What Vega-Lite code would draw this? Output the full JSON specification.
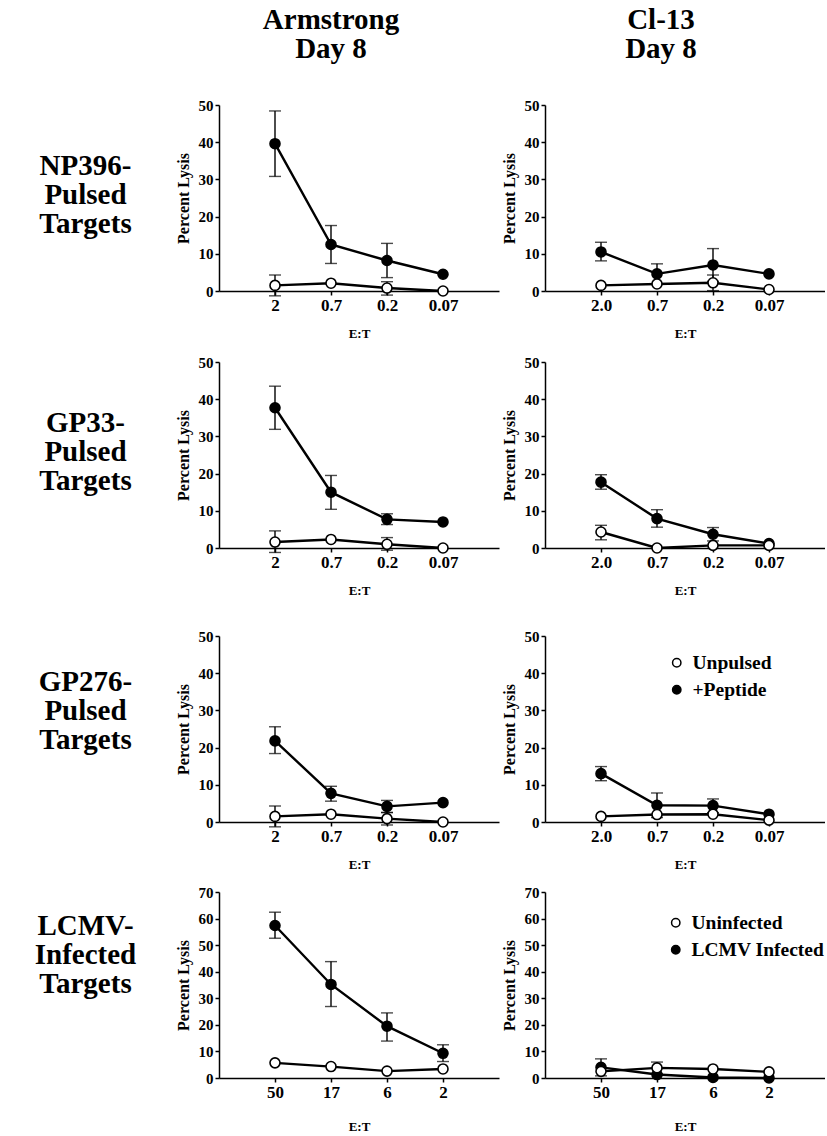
{
"$schema": "https://vega.github.io/schema/vega-lite/v6.json",
"background": "white",
"padding": {"left": 2, "top": 6, "right": 0, "bottom": 0},
"config": {
  "view": {"stroke": null},
  "font": "Liberation Serif",
  "axis": {"grid": false, "labelFont": "Liberation Serif", "labelFontWeight": "bold", "labelFontSize": 15, "labelColor": "black", "titleFont": "Liberation Serif", "titleFontWeight": "bold", "titleFontSize": 14, "titleColor": "black", "domainColor": "black", "domainWidth": 1.5, "tickColor": "black", "tickWidth": 1.5, "tickSize": 4},
  "axisX": {"labelFontSize": 17, "labelAngle": 0, "labelPadding": 2, "titlePadding": 14, "titleFontSize": 13},
  "axisY": {"titleFontSize": 16, "titlePadding": 7, "labelPadding": 2}
},
"datasets": {
  "d": [
    {"p": "A1", "et": "2", "s": "+Peptide", "v": 39.6, "lo": 30.8, "hi": 48.4},
    {"p": "A1", "et": "0.7", "s": "+Peptide", "v": 12.5, "lo": 7.4, "hi": 17.6},
    {"p": "A1", "et": "0.2", "s": "+Peptide", "v": 8.2, "lo": 3.6, "hi": 12.8},
    {"p": "A1", "et": "0.07", "s": "+Peptide", "v": 4.5, "lo": null, "hi": null},
    {"p": "A1", "et": "2", "s": "Unpulsed", "v": 1.5, "lo": -1.3, "hi": 4.3},
    {"p": "A1", "et": "0.7", "s": "Unpulsed", "v": 2.1, "lo": null, "hi": null},
    {"p": "A1", "et": "0.2", "s": "Unpulsed", "v": 0.8, "lo": -1.1, "hi": 2.5},
    {"p": "A1", "et": "0.07", "s": "Unpulsed", "v": 0, "lo": null, "hi": null},

    {"p": "B1", "et": "2.0", "s": "+Peptide", "v": 10.5, "lo": 8.1, "hi": 13.1},
    {"p": "B1", "et": "0.7", "s": "+Peptide", "v": 4.6, "lo": 1.9, "hi": 7.3},
    {"p": "B1", "et": "0.2", "s": "+Peptide", "v": 7.0, "lo": 2.6, "hi": 11.4},
    {"p": "B1", "et": "0.07", "s": "+Peptide", "v": 4.6, "lo": null, "hi": null},
    {"p": "B1", "et": "2.0", "s": "Unpulsed", "v": 1.5, "lo": null, "hi": null},
    {"p": "B1", "et": "0.7", "s": "Unpulsed", "v": 1.9, "lo": null, "hi": null},
    {"p": "B1", "et": "0.2", "s": "Unpulsed", "v": 2.2, "lo": 0.1, "hi": 4.3},
    {"p": "B1", "et": "0.07", "s": "Unpulsed", "v": 0.4, "lo": null, "hi": null},

    {"p": "A2", "et": "2", "s": "+Peptide", "v": 37.7, "lo": 31.9, "hi": 43.5},
    {"p": "A2", "et": "0.7", "s": "+Peptide", "v": 15.0, "lo": 10.4, "hi": 19.5},
    {"p": "A2", "et": "0.2", "s": "+Peptide", "v": 7.7, "lo": 6.3, "hi": 9.2},
    {"p": "A2", "et": "0.07", "s": "+Peptide", "v": 7.0, "lo": null, "hi": null},
    {"p": "A2", "et": "2", "s": "Unpulsed", "v": 1.6, "lo": -1.2, "hi": 4.6},
    {"p": "A2", "et": "0.7", "s": "Unpulsed", "v": 2.3, "lo": null, "hi": null},
    {"p": "A2", "et": "0.2", "s": "Unpulsed", "v": 1.0, "lo": -0.6, "hi": 2.8},
    {"p": "A2", "et": "0.07", "s": "Unpulsed", "v": 0, "lo": null, "hi": null},

    {"p": "B2", "et": "2.0", "s": "+Peptide", "v": 17.7, "lo": 15.8, "hi": 19.7},
    {"p": "B2", "et": "0.7", "s": "+Peptide", "v": 7.9, "lo": 5.6, "hi": 10.3},
    {"p": "B2", "et": "0.2", "s": "+Peptide", "v": 3.7, "lo": 1.9, "hi": 5.5},
    {"p": "B2", "et": "0.07", "s": "+Peptide", "v": 1.2, "lo": null, "hi": null},
    {"p": "B2", "et": "2.0", "s": "Unpulsed", "v": 4.3, "lo": 2.2, "hi": 6.1},
    {"p": "B2", "et": "0.7", "s": "Unpulsed", "v": 0, "lo": null, "hi": null},
    {"p": "B2", "et": "0.2", "s": "Unpulsed", "v": 0.7, "lo": null, "hi": null},
    {"p": "B2", "et": "0.07", "s": "Unpulsed", "v": 0.7, "lo": null, "hi": null},

    {"p": "A3", "et": "2", "s": "+Peptide", "v": 21.8, "lo": 18.4, "hi": 25.6},
    {"p": "A3", "et": "0.7", "s": "+Peptide", "v": 7.7, "lo": 5.6, "hi": 9.6},
    {"p": "A3", "et": "0.2", "s": "+Peptide", "v": 4.2, "lo": 2.5, "hi": 5.8},
    {"p": "A3", "et": "0.07", "s": "+Peptide", "v": 5.2, "lo": null, "hi": null},
    {"p": "A3", "et": "2", "s": "Unpulsed", "v": 1.5, "lo": -1.3, "hi": 4.3},
    {"p": "A3", "et": "0.7", "s": "Unpulsed", "v": 2.1, "lo": null, "hi": null},
    {"p": "A3", "et": "0.2", "s": "Unpulsed", "v": 0.9, "lo": -0.8, "hi": 2.6},
    {"p": "A3", "et": "0.07", "s": "Unpulsed", "v": 0, "lo": null, "hi": null},

    {"p": "B3", "et": "2.0", "s": "+Peptide", "v": 13.0, "lo": 11.1, "hi": 14.9},
    {"p": "B3", "et": "0.7", "s": "+Peptide", "v": 4.5, "lo": 1.2, "hi": 7.8},
    {"p": "B3", "et": "0.2", "s": "+Peptide", "v": 4.4, "lo": 2.5, "hi": 6.2},
    {"p": "B3", "et": "0.07", "s": "+Peptide", "v": 2.1, "lo": null, "hi": null},
    {"p": "B3", "et": "2.0", "s": "Unpulsed", "v": 1.5, "lo": null, "hi": null},
    {"p": "B3", "et": "0.7", "s": "Unpulsed", "v": 2.0, "lo": null, "hi": null},
    {"p": "B3", "et": "0.2", "s": "Unpulsed", "v": 2.1, "lo": null, "hi": null},
    {"p": "B3", "et": "0.07", "s": "Unpulsed", "v": 0.5, "lo": null, "hi": null},

    {"p": "A4", "et": "50", "s": "LCMV Infected", "v": 57.4, "lo": 52.6, "hi": 62.4},
    {"p": "A4", "et": "17", "s": "LCMV Infected", "v": 35.2, "lo": 26.9, "hi": 43.8},
    {"p": "A4", "et": "6", "s": "LCMV Infected", "v": 19.5, "lo": 13.9, "hi": 24.5},
    {"p": "A4", "et": "2", "s": "LCMV Infected", "v": 9.3, "lo": 6.2, "hi": 12.5},
    {"p": "A4", "et": "50", "s": "Uninfected", "v": 5.7, "lo": null, "hi": null},
    {"p": "A4", "et": "17", "s": "Uninfected", "v": 4.3, "lo": null, "hi": null},
    {"p": "A4", "et": "6", "s": "Uninfected", "v": 2.6, "lo": null, "hi": null},
    {"p": "A4", "et": "2", "s": "Uninfected", "v": 3.4, "lo": null, "hi": null},

    {"p": "B4", "et": "50", "s": "LCMV Infected", "v": 4.0, "lo": 0.8, "hi": 7.2},
    {"p": "B4", "et": "17", "s": "LCMV Infected", "v": 1.3, "lo": null, "hi": null},
    {"p": "B4", "et": "6", "s": "LCMV Infected", "v": 0.2, "lo": null, "hi": null},
    {"p": "B4", "et": "2", "s": "LCMV Infected", "v": 0, "lo": null, "hi": null},
    {"p": "B4", "et": "50", "s": "Uninfected", "v": 2.5, "lo": null, "hi": null},
    {"p": "B4", "et": "17", "s": "Uninfected", "v": 3.8, "lo": 1.6, "hi": 6.0},
    {"p": "B4", "et": "6", "s": "Uninfected", "v": 3.4, "lo": null, "hi": null},
    {"p": "B4", "et": "2", "s": "Uninfected", "v": 2.3, "lo": null, "hi": null}
  ]
},
"resolve": {"scale": {"x": "independent", "y": "independent", "fill": "independent"}, "legend": {"fill": "independent"}},
"spacing": 32,
"vconcat": [
 {
  "resolve": {"scale": {"x": "independent", "y": "independent", "fill": "independent"}, "legend": {"fill": "independent"}},
  "spacing": 15,
  "vconcat": [
   {
    "resolve": {"scale": {"x": "independent", "y": "independent", "fill": "independent"}, "legend": {"fill": "independent"}},
    "spacing": 2,
    "hconcat": [
     {"width": 171, "height": 186, "data": {"values": [{"label": "NP396-\nPulsed\nTargets"}]},
      "mark": {"type": "text", "lineBreak": "\n", "font": "Liberation Serif", "fontWeight": "bold", "fontSize": 29, "lineHeight": 29, "align": "center", "baseline": "middle", "dy": -32, "dx": -2, "color": "black"},
      "encoding": {"text": {"field": "label"}}},
     {"width": 280, "height": 186, "data": {"name": "d"}, "transform": [{"filter": "datum.p === 'A1'"}],
      "title": {"text": ["Armstrong", "Day 8"], "frame": "bounds", "anchor": "middle", "fontSize": 29, "lineHeight": 29, "font": "Liberation Serif", "fontWeight": "bold", "color": "black", "offset": 34, "dx": -6},
      "encoding": {"x": {"field": "et", "type": "ordinal", "sort": ["2", "0.7", "0.2", "0.07"], "scale": {"type": "point", "padding": 1}, "axis": {"title": "E:T"}}},
      "layer": [
       {"mark": {"type": "line", "color": "black", "strokeWidth": 2.4}, "encoding": {"y": {"field": "v", "type": "quantitative", "scale": {"domain": [0, 50], "nice": false}, "axis": {"title": "Percent Lysis", "values": [0, 10, 20, 30, 40, 50]}}, "detail": {"field": "s"}}},
       {"mark": {"type": "rule", "color": "black", "strokeWidth": 1.4}, "encoding": {"y": {"field": "lo", "type": "quantitative", "scale": {"domain": [0, 50], "nice": false}, "axis": {"title": "Percent Lysis", "values": [0, 10, 20, 30, 40, 50]}}, "y2": {"field": "hi"}}},
       {"mark": {"type": "tick", "color": "black", "size": 12, "thickness": 1.4}, "encoding": {"y": {"field": "hi", "type": "quantitative", "scale": {"domain": [0, 50], "nice": false}, "axis": {"title": "Percent Lysis", "values": [0, 10, 20, 30, 40, 50]}}}},
       {"mark": {"type": "tick", "color": "black", "size": 12, "thickness": 1.4}, "encoding": {"y": {"field": "lo", "type": "quantitative", "scale": {"domain": [0, 50], "nice": false}, "axis": {"title": "Percent Lysis", "values": [0, 10, 20, 30, 40, 50]}}}},
       {"mark": {"type": "point", "shape": "circle", "filled": true, "size": 100, "stroke": "black", "strokeWidth": 1.6, "opacity": 1}, "encoding": {"y": {"field": "v", "type": "quantitative", "scale": {"domain": [0, 50], "nice": false}, "axis": {"title": "Percent Lysis", "values": [0, 10, 20, 30, 40, 50]}}, "fill": {"field": "s", "type": "nominal", "scale": {"domain": ["Unpulsed", "+Peptide"], "range": ["white", "black"]}, "legend": null}}}
      ]},
     {"width": 280, "height": 186, "data": {"name": "d"}, "transform": [{"filter": "datum.p === 'B1'"}],
      "title": {"text": ["Cl-13", "Day 8"], "frame": "bounds", "anchor": "middle", "fontSize": 29, "lineHeight": 29, "font": "Liberation Serif", "fontWeight": "bold", "color": "black", "offset": 34, "dx": -2},
      "encoding": {"x": {"field": "et", "type": "ordinal", "sort": ["2.0", "0.7", "0.2", "0.07"], "scale": {"type": "point", "padding": 1}, "axis": {"title": "E:T"}}},
      "layer": [
       {"mark": {"type": "line", "color": "black", "strokeWidth": 2.4}, "encoding": {"y": {"field": "v", "type": "quantitative", "scale": {"domain": [0, 50], "nice": false}, "axis": {"title": "Percent Lysis", "values": [0, 10, 20, 30, 40, 50]}}, "detail": {"field": "s"}}},
       {"mark": {"type": "rule", "color": "black", "strokeWidth": 1.4}, "encoding": {"y": {"field": "lo", "type": "quantitative", "scale": {"domain": [0, 50], "nice": false}, "axis": {"title": "Percent Lysis", "values": [0, 10, 20, 30, 40, 50]}}, "y2": {"field": "hi"}}},
       {"mark": {"type": "tick", "color": "black", "size": 12, "thickness": 1.4}, "encoding": {"y": {"field": "hi", "type": "quantitative", "scale": {"domain": [0, 50], "nice": false}, "axis": {"title": "Percent Lysis", "values": [0, 10, 20, 30, 40, 50]}}}},
       {"mark": {"type": "tick", "color": "black", "size": 12, "thickness": 1.4}, "encoding": {"y": {"field": "lo", "type": "quantitative", "scale": {"domain": [0, 50], "nice": false}, "axis": {"title": "Percent Lysis", "values": [0, 10, 20, 30, 40, 50]}}}},
       {"mark": {"type": "point", "shape": "circle", "filled": true, "size": 100, "stroke": "black", "strokeWidth": 1.6, "opacity": 1}, "encoding": {"y": {"field": "v", "type": "quantitative", "scale": {"domain": [0, 50], "nice": false}, "axis": {"title": "Percent Lysis", "values": [0, 10, 20, 30, 40, 50]}}, "fill": {"field": "s", "type": "nominal", "scale": {"domain": ["Unpulsed", "+Peptide"], "range": ["white", "black"]}, "legend": null}}}
      ]}
    ]
   },
   {
    "resolve": {"scale": {"x": "independent", "y": "independent", "fill": "independent"}, "legend": {"fill": "independent"}},
    "spacing": 2,
    "hconcat": [
     {"width": 171, "height": 186, "data": {"values": [{"label": "GP33-\nPulsed\nTargets"}]},
      "mark": {"type": "text", "lineBreak": "\n", "font": "Liberation Serif", "fontWeight": "bold", "fontSize": 29, "lineHeight": 29, "align": "center", "baseline": "middle", "dy": -32, "dx": -2, "color": "black"},
      "encoding": {"text": {"field": "label"}}},
     {"width": 280, "height": 186, "data": {"name": "d"}, "transform": [{"filter": "datum.p === 'A2'"}],
      "encoding": {"x": {"field": "et", "type": "ordinal", "sort": ["2", "0.7", "0.2", "0.07"], "scale": {"type": "point", "padding": 1}, "axis": {"title": "E:T"}}},
      "layer": [
       {"mark": {"type": "line", "color": "black", "strokeWidth": 2.4}, "encoding": {"y": {"field": "v", "type": "quantitative", "scale": {"domain": [0, 50], "nice": false}, "axis": {"title": "Percent Lysis", "values": [0, 10, 20, 30, 40, 50]}}, "detail": {"field": "s"}}},
       {"mark": {"type": "rule", "color": "black", "strokeWidth": 1.4}, "encoding": {"y": {"field": "lo", "type": "quantitative", "scale": {"domain": [0, 50], "nice": false}, "axis": {"title": "Percent Lysis", "values": [0, 10, 20, 30, 40, 50]}}, "y2": {"field": "hi"}}},
       {"mark": {"type": "tick", "color": "black", "size": 12, "thickness": 1.4}, "encoding": {"y": {"field": "hi", "type": "quantitative", "scale": {"domain": [0, 50], "nice": false}, "axis": {"title": "Percent Lysis", "values": [0, 10, 20, 30, 40, 50]}}}},
       {"mark": {"type": "tick", "color": "black", "size": 12, "thickness": 1.4}, "encoding": {"y": {"field": "lo", "type": "quantitative", "scale": {"domain": [0, 50], "nice": false}, "axis": {"title": "Percent Lysis", "values": [0, 10, 20, 30, 40, 50]}}}},
       {"mark": {"type": "point", "shape": "circle", "filled": true, "size": 100, "stroke": "black", "strokeWidth": 1.6, "opacity": 1}, "encoding": {"y": {"field": "v", "type": "quantitative", "scale": {"domain": [0, 50], "nice": false}, "axis": {"title": "Percent Lysis", "values": [0, 10, 20, 30, 40, 50]}}, "fill": {"field": "s", "type": "nominal", "scale": {"domain": ["Unpulsed", "+Peptide"], "range": ["white", "black"]}, "legend": null}}}
      ]},
     {"width": 280, "height": 186, "data": {"name": "d"}, "transform": [{"filter": "datum.p === 'B2'"}],
      "encoding": {"x": {"field": "et", "type": "ordinal", "sort": ["2.0", "0.7", "0.2", "0.07"], "scale": {"type": "point", "padding": 1}, "axis": {"title": "E:T"}}},
      "layer": [
       {"mark": {"type": "line", "color": "black", "strokeWidth": 2.4}, "encoding": {"y": {"field": "v", "type": "quantitative", "scale": {"domain": [0, 50], "nice": false}, "axis": {"title": "Percent Lysis", "values": [0, 10, 20, 30, 40, 50]}}, "detail": {"field": "s"}}},
       {"mark": {"type": "rule", "color": "black", "strokeWidth": 1.4}, "encoding": {"y": {"field": "lo", "type": "quantitative", "scale": {"domain": [0, 50], "nice": false}, "axis": {"title": "Percent Lysis", "values": [0, 10, 20, 30, 40, 50]}}, "y2": {"field": "hi"}}},
       {"mark": {"type": "tick", "color": "black", "size": 12, "thickness": 1.4}, "encoding": {"y": {"field": "hi", "type": "quantitative", "scale": {"domain": [0, 50], "nice": false}, "axis": {"title": "Percent Lysis", "values": [0, 10, 20, 30, 40, 50]}}}},
       {"mark": {"type": "tick", "color": "black", "size": 12, "thickness": 1.4}, "encoding": {"y": {"field": "lo", "type": "quantitative", "scale": {"domain": [0, 50], "nice": false}, "axis": {"title": "Percent Lysis", "values": [0, 10, 20, 30, 40, 50]}}}},
       {"mark": {"type": "point", "shape": "circle", "filled": true, "size": 100, "stroke": "black", "strokeWidth": 1.6, "opacity": 1}, "encoding": {"y": {"field": "v", "type": "quantitative", "scale": {"domain": [0, 50], "nice": false}, "axis": {"title": "Percent Lysis", "values": [0, 10, 20, 30, 40, 50]}}, "fill": {"field": "s", "type": "nominal", "scale": {"domain": ["Unpulsed", "+Peptide"], "range": ["white", "black"]}, "legend": null}}}
      ]}
    ]
   }
  ]
 },
 {
  "resolve": {"scale": {"x": "independent", "y": "independent", "fill": "independent"}, "legend": {"fill": "independent"}},
  "spacing": 14,
  "vconcat": [
   {
    "resolve": {"scale": {"x": "independent", "y": "independent", "fill": "independent"}, "legend": {"fill": "independent"}},
    "spacing": 2,
    "hconcat": [
     {"width": 171, "height": 186, "data": {"values": [{"label": "GP276-\nPulsed\nTargets"}]},
      "mark": {"type": "text", "lineBreak": "\n", "font": "Liberation Serif", "fontWeight": "bold", "fontSize": 29, "lineHeight": 29, "align": "center", "baseline": "middle", "dy": -47, "dx": -2, "color": "black"},
      "encoding": {"text": {"field": "label"}}},
     {"width": 280, "height": 186, "data": {"name": "d"}, "transform": [{"filter": "datum.p === 'A3'"}],
      "encoding": {"x": {"field": "et", "type": "ordinal", "sort": ["2", "0.7", "0.2", "0.07"], "scale": {"type": "point", "padding": 1}, "axis": {"title": "E:T"}}},
      "layer": [
       {"mark": {"type": "line", "color": "black", "strokeWidth": 2.4}, "encoding": {"y": {"field": "v", "type": "quantitative", "scale": {"domain": [0, 50], "nice": false}, "axis": {"title": "Percent Lysis", "values": [0, 10, 20, 30, 40, 50]}}, "detail": {"field": "s"}}},
       {"mark": {"type": "rule", "color": "black", "strokeWidth": 1.4}, "encoding": {"y": {"field": "lo", "type": "quantitative", "scale": {"domain": [0, 50], "nice": false}, "axis": {"title": "Percent Lysis", "values": [0, 10, 20, 30, 40, 50]}}, "y2": {"field": "hi"}}},
       {"mark": {"type": "tick", "color": "black", "size": 12, "thickness": 1.4}, "encoding": {"y": {"field": "hi", "type": "quantitative", "scale": {"domain": [0, 50], "nice": false}, "axis": {"title": "Percent Lysis", "values": [0, 10, 20, 30, 40, 50]}}}},
       {"mark": {"type": "tick", "color": "black", "size": 12, "thickness": 1.4}, "encoding": {"y": {"field": "lo", "type": "quantitative", "scale": {"domain": [0, 50], "nice": false}, "axis": {"title": "Percent Lysis", "values": [0, 10, 20, 30, 40, 50]}}}},
       {"mark": {"type": "point", "shape": "circle", "filled": true, "size": 100, "stroke": "black", "strokeWidth": 1.6, "opacity": 1}, "encoding": {"y": {"field": "v", "type": "quantitative", "scale": {"domain": [0, 50], "nice": false}, "axis": {"title": "Percent Lysis", "values": [0, 10, 20, 30, 40, 50]}}, "fill": {"field": "s", "type": "nominal", "scale": {"domain": ["Unpulsed", "+Peptide"], "range": ["white", "black"]}, "legend": null}}}
      ]},
     {"width": 280, "height": 186, "data": {"name": "d"}, "transform": [{"filter": "datum.p === 'B3'"}],
      "encoding": {"x": {"field": "et", "type": "ordinal", "sort": ["2.0", "0.7", "0.2", "0.07"], "scale": {"type": "point", "padding": 1}, "axis": {"title": "E:T"}}},
      "layer": [
       {"mark": {"type": "line", "color": "black", "strokeWidth": 2.4}, "encoding": {"y": {"field": "v", "type": "quantitative", "scale": {"domain": [0, 50], "nice": false}, "axis": {"title": "Percent Lysis", "values": [0, 10, 20, 30, 40, 50]}}, "detail": {"field": "s"}}},
       {"mark": {"type": "rule", "color": "black", "strokeWidth": 1.4}, "encoding": {"y": {"field": "lo", "type": "quantitative", "scale": {"domain": [0, 50], "nice": false}, "axis": {"title": "Percent Lysis", "values": [0, 10, 20, 30, 40, 50]}}, "y2": {"field": "hi"}}},
       {"mark": {"type": "tick", "color": "black", "size": 12, "thickness": 1.4}, "encoding": {"y": {"field": "hi", "type": "quantitative", "scale": {"domain": [0, 50], "nice": false}, "axis": {"title": "Percent Lysis", "values": [0, 10, 20, 30, 40, 50]}}}},
       {"mark": {"type": "tick", "color": "black", "size": 12, "thickness": 1.4}, "encoding": {"y": {"field": "lo", "type": "quantitative", "scale": {"domain": [0, 50], "nice": false}, "axis": {"title": "Percent Lysis", "values": [0, 10, 20, 30, 40, 50]}}}},
       {"mark": {"type": "point", "shape": "circle", "filled": true, "size": 100, "stroke": "black", "strokeWidth": 1.6, "opacity": 1}, "encoding": {"y": {"field": "v", "type": "quantitative", "scale": {"domain": [0, 50], "nice": false}, "axis": {"title": "Percent Lysis", "values": [0, 10, 20, 30, 40, 50]}}, "fill": {"field": "s", "type": "nominal", "scale": {"domain": ["Unpulsed", "+Peptide"], "range": ["white", "black"]}, "legend": {"title": null, "orient": "none", "legendX": 122, "legendY": 17, "labelFontSize": 19.5, "labelFont": "Liberation Serif", "labelFontWeight": "bold", "labelColor": "black", "symbolSize": 70, "symbolType": "circle", "symbolStrokeColor": "black", "symbolStrokeWidth": 1.5, "rowPadding": 6, "labelOffset": 6}}}}
      ]}
    ]
   },
   {
    "resolve": {"scale": {"x": "independent", "y": "independent", "fill": "independent"}, "legend": {"fill": "independent"}},
    "spacing": 2,
    "hconcat": [
     {"width": 171, "height": 186, "data": {"values": [{"label": "LCMV-\nInfected\nTargets"}]},
      "mark": {"type": "text", "lineBreak": "\n", "font": "Liberation Serif", "fontWeight": "bold", "fontSize": 29, "lineHeight": 29, "align": "center", "baseline": "middle", "dy": -59, "dx": -2, "color": "black"},
      "encoding": {"text": {"field": "label"}}},
     {"width": 280, "height": 186, "data": {"name": "d"}, "transform": [{"filter": "datum.p === 'A4'"}],
      "encoding": {"x": {"field": "et", "type": "ordinal", "sort": ["50", "17", "6", "2"], "scale": {"type": "point", "padding": 1}, "axis": {"title": "E:T", "titlePadding": 20}}},
      "layer": [
       {"mark": {"type": "line", "color": "black", "strokeWidth": 2.4}, "encoding": {"y": {"field": "v", "type": "quantitative", "scale": {"domain": [0, 70], "nice": false}, "axis": {"title": "Percent Lysis", "values": [0, 10, 20, 30, 40, 50, 60, 70]}}, "detail": {"field": "s"}}},
       {"mark": {"type": "rule", "color": "black", "strokeWidth": 1.4}, "encoding": {"y": {"field": "lo", "type": "quantitative", "scale": {"domain": [0, 70], "nice": false}, "axis": {"title": "Percent Lysis", "values": [0, 10, 20, 30, 40, 50, 60, 70]}}, "y2": {"field": "hi"}}},
       {"mark": {"type": "tick", "color": "black", "size": 12, "thickness": 1.4}, "encoding": {"y": {"field": "hi", "type": "quantitative", "scale": {"domain": [0, 70], "nice": false}, "axis": {"title": "Percent Lysis", "values": [0, 10, 20, 30, 40, 50, 60, 70]}}}},
       {"mark": {"type": "tick", "color": "black", "size": 12, "thickness": 1.4}, "encoding": {"y": {"field": "lo", "type": "quantitative", "scale": {"domain": [0, 70], "nice": false}, "axis": {"title": "Percent Lysis", "values": [0, 10, 20, 30, 40, 50, 60, 70]}}}},
       {"mark": {"type": "point", "shape": "circle", "filled": true, "size": 100, "stroke": "black", "strokeWidth": 1.6, "opacity": 1}, "encoding": {"y": {"field": "v", "type": "quantitative", "scale": {"domain": [0, 70], "nice": false}, "axis": {"title": "Percent Lysis", "values": [0, 10, 20, 30, 40, 50, 60, 70]}}, "fill": {"field": "s", "type": "nominal", "scale": {"domain": ["Uninfected", "LCMV Infected"], "range": ["white", "black"]}, "legend": null}}}
      ]},
     {"width": 280, "height": 186, "data": {"name": "d"}, "transform": [{"filter": "datum.p === 'B4'"}],
      "encoding": {"x": {"field": "et", "type": "ordinal", "sort": ["50", "17", "6", "2"], "scale": {"type": "point", "padding": 1}, "axis": {"title": "E:T", "titlePadding": 20}}},
      "layer": [
       {"mark": {"type": "line", "color": "black", "strokeWidth": 2.4}, "encoding": {"y": {"field": "v", "type": "quantitative", "scale": {"domain": [0, 70], "nice": false}, "axis": {"title": "Percent Lysis", "values": [0, 10, 20, 30, 40, 50, 60, 70]}}, "detail": {"field": "s"}}},
       {"mark": {"type": "rule", "color": "black", "strokeWidth": 1.4}, "encoding": {"y": {"field": "lo", "type": "quantitative", "scale": {"domain": [0, 70], "nice": false}, "axis": {"title": "Percent Lysis", "values": [0, 10, 20, 30, 40, 50, 60, 70]}}, "y2": {"field": "hi"}}},
       {"mark": {"type": "tick", "color": "black", "size": 12, "thickness": 1.4}, "encoding": {"y": {"field": "hi", "type": "quantitative", "scale": {"domain": [0, 70], "nice": false}, "axis": {"title": "Percent Lysis", "values": [0, 10, 20, 30, 40, 50, 60, 70]}}}},
       {"mark": {"type": "tick", "color": "black", "size": 12, "thickness": 1.4}, "encoding": {"y": {"field": "lo", "type": "quantitative", "scale": {"domain": [0, 70], "nice": false}, "axis": {"title": "Percent Lysis", "values": [0, 10, 20, 30, 40, 50, 60, 70]}}}},
       {"mark": {"type": "point", "shape": "circle", "filled": true, "size": 100, "stroke": "black", "strokeWidth": 1.6, "opacity": 1}, "encoding": {"y": {"field": "v", "type": "quantitative", "scale": {"domain": [0, 70], "nice": false}, "axis": {"title": "Percent Lysis", "values": [0, 10, 20, 30, 40, 50, 60, 70]}}, "fill": {"field": "s", "type": "nominal", "scale": {"domain": ["Uninfected", "LCMV Infected"], "range": ["white", "black"]}, "legend": {"title": null, "orient": "none", "legendX": 121, "legendY": 21, "labelFontSize": 19.5, "labelFont": "Liberation Serif", "labelFontWeight": "bold", "labelColor": "black", "symbolSize": 70, "symbolType": "circle", "symbolStrokeColor": "black", "symbolStrokeWidth": 1.5, "rowPadding": 6, "labelOffset": 6}}}}
      ]}
    ]
   }
  ]
 }
]
}
